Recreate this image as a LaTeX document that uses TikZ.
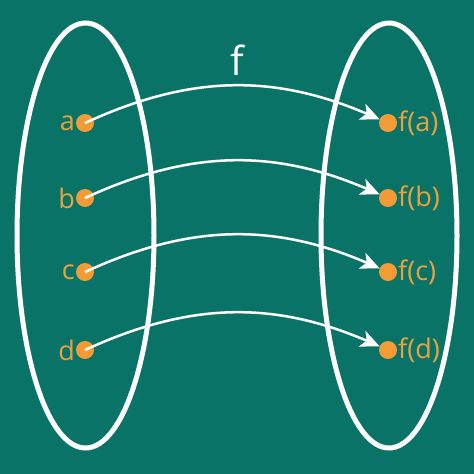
\documentclass[tikz,border=0pt]{standalone}
\usepackage{fontspec}
\setmainfont{Open Sans}
\usetikzlibrary{arrows.meta}
\definecolor{bg}{RGB}{10,115,104}
\definecolor{dotc}{RGB}{243,155,52}
\definecolor{labc}{RGB}{234,163,60}
\tikzset{
  dotn/.style={circle,fill=dotc,inner sep=0pt,minimum size=18pt},
  lab/.style={text=labc,font=\fontsize{27}{27}\selectfont,inner sep=0pt},
  setell/.style={draw=white,line width=5pt},
  maparr/.style={draw=white,line width=2.5pt,-{Stealth[length=19pt,width=17pt,inset=5pt]},bend left=24}
}
\begin{document}
\begin{tikzpicture}[x=1pt,y=-1pt]
\fill[bg] (0,0) rectangle (474,474);
\useasboundingbox (0,0) rectangle (474,474);
\draw[setell] (85.5,235.5) ellipse [x radius=68.5,y radius=212.5];
\draw[setell] (389,235.5) ellipse [x radius=68,y radius=212.5];
\node[text=white,font=\fontsize{40}{40}\selectfont,inner sep=0pt] (f) at (237,60) {f};
\foreach \n/\y/\t in {a/123/a,b/198/b,c/272/c,d/350/d}{
  \node[dotn] (\n) at (85,\y) {};
  \node[lab,anchor=east] (l\n) at (75,\y) {\t};
  \node[dotn] (f\n) at (388,\y) {};
  \node[lab,anchor=west] (lf\n) at (398,\y) {f(\t)};
}
\foreach \n in {a,b,c,d}{
  \draw[maparr] (\n.center) to (f\n);
}
\end{tikzpicture}
\end{document}
